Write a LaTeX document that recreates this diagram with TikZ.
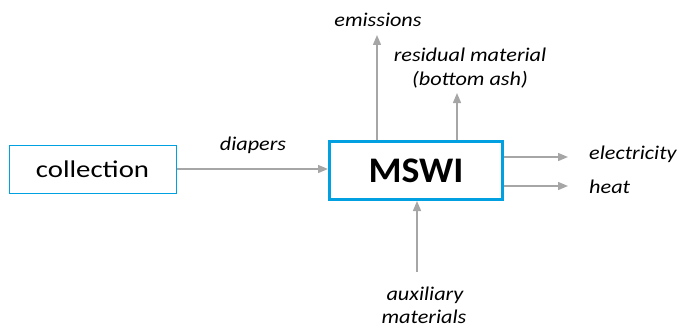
\documentclass[tikz,border=0pt]{standalone}
\usepackage{fontspec}
\usepackage{graphicx}
\setmainfont{Carlito}
\usetikzlibrary{arrows.meta}
\definecolor{boxblue}{RGB}{0,160,225}
\definecolor{arrowgray}{RGB}{166,166,166}
\newcommand{\hwide}[2]{\scalebox{#1}[1]{#2}}
\newcommand{\lab}[1]{\hwide{1.14}{#1}}
\tikzset{
  flow/.style={draw=arrowgray, line width=1.4pt, -{Triangle[length=10pt,width=8pt]}},
  lbl/.style={font=\fontsize{19.5}{25}\selectfont\itshape, inner sep=0pt},
}
\begin{document}
\begin{tikzpicture}[x=1pt,y=-1pt]
\useasboundingbox (0,0) rectangle (679,329);
\node[draw=boxblue, line width=1pt, minimum width=167pt, minimum height=48pt, inner sep=0pt,
      font=\fontsize{24}{28}\selectfont] (coll) at (92.5,169) {\hwide{1.2}{collection}};
\node[draw=boxblue, line width=3pt, minimum width=173pt, minimum height=58pt, inner sep=0pt,
      font=\fontsize{36}{40}\selectfont\bfseries] (mswi) at (416,170.5) {\hwide{1.05}{MSWI}};
\coordinate (emtip) at (377,35);
\coordinate (restip) at (457,93);
\coordinate (eltip) at (568,157);
\coordinate (httip) at (568,186);
\coordinate (auxst) at (417,272);
\node[lbl] (diap) at (253,145) {\lab{diapers}};
\node[lbl] (emis) at (378,20) {\lab{emissions}};
\node[lbl] (resid1) at (470,55) {\lab{residual material}};
\node[lbl] (resid2) at (470,80) {\lab{(bottom ash)}};
\node[lbl, anchor=west] (elec) at (589,154) {\lab{electricity}};
\node[lbl, anchor=west] (heat) at (589,187) {\lab{heat}};
\node[lbl] (aux1) at (425,295) {\lab{auxiliary}};
\node[lbl] (aux2) at (424,317) {\lab{materials}};
\draw[flow] (coll.east) -- (mswi.west |- coll.east);
\draw[flow] (mswi.north -| emtip) -- (emtip);
\draw[flow] (mswi.north -| restip) -- (restip);
\draw[flow] (mswi.east |- eltip) -- (eltip);
\draw[flow] (mswi.east |- httip) -- (httip);
\draw[flow] (auxst) -- (mswi.south -| auxst);
\end{tikzpicture}
\end{document}
